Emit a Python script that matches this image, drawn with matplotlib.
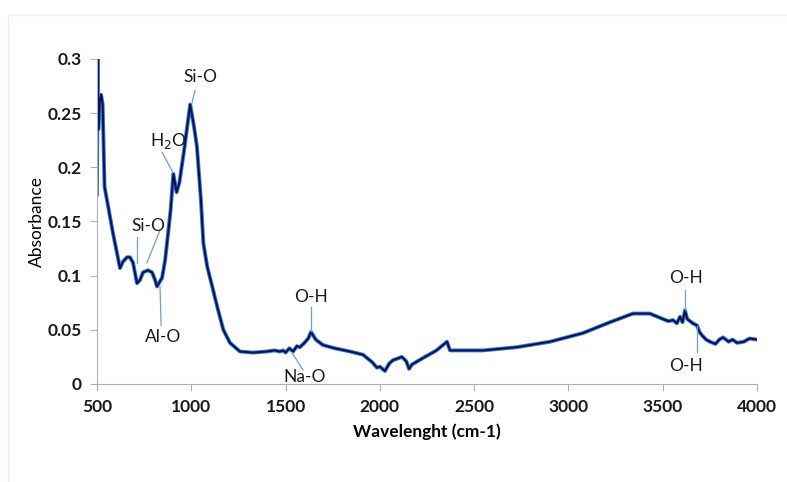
import matplotlib
matplotlib.use('Agg')
from matplotlib import pyplot as plt
from matplotlib.lines import Line2D

plt.rcParams['font.family'] = ['Lato', 'DejaVu Sans']

# FTIR spectrum, wavenumber vs absorbance
wn = [500, 503, 507, 515, 522, 530, 540, 558, 585, 622, 638, 659, 675, 691,
      712, 728, 744, 770, 792, 808, 818, 845, 861, 877, 890, 905, 922, 937,
      962, 994, 1015, 1030, 1051, 1064, 1085, 1111, 1138, 1170, 1205, 1258,
      1327, 1400, 1440, 1470, 1487, 1500, 1520, 1540, 1560, 1576, 1600, 1620,
      1635, 1660, 1698, 1760, 1842, 1911, 1960, 1985, 2000, 2027, 2050, 2070,
      2117, 2140, 2155, 2170, 2229, 2300, 2335, 2356, 2372, 2450, 2547, 2727,
      2902, 3077, 3220, 3342, 3432, 3501, 3530, 3554, 3575, 3592, 3605, 3618,
      3630, 3645, 3660, 3682, 3695, 3708, 3730, 3751, 3780, 3800, 3820, 3850,
      3870, 3894, 3930, 3960, 4000]
absorb = [0.175, 0.300, 0.235, 0.262, 0.267, 0.258, 0.182, 0.165, 0.139,
          0.107, 0.113, 0.117, 0.117, 0.112, 0.093, 0.096, 0.103, 0.105,
          0.103, 0.096, 0.090, 0.098, 0.114, 0.139, 0.160, 0.194, 0.177,
          0.186, 0.216, 0.258, 0.237, 0.219, 0.170, 0.130, 0.108, 0.090,
          0.071, 0.050, 0.038, 0.030, 0.029, 0.030, 0.031, 0.030, 0.031,
          0.029, 0.033, 0.030, 0.035, 0.034, 0.038, 0.042, 0.048, 0.041,
          0.036, 0.033, 0.030, 0.027, 0.020, 0.015, 0.016, 0.012, 0.019,
          0.022, 0.025, 0.021, 0.014, 0.018, 0.024, 0.031, 0.036, 0.039,
          0.031, 0.031, 0.031, 0.034, 0.039, 0.047, 0.057, 0.065, 0.065,
          0.060, 0.058, 0.059, 0.056, 0.062, 0.057, 0.068, 0.060, 0.058,
          0.056, 0.054, 0.048, 0.045, 0.041, 0.039, 0.037, 0.041, 0.043,
          0.039, 0.041, 0.038, 0.039, 0.042, 0.041]

xticks = [500, 1000, 1500, 2000, 2500, 3000, 3500, 4000]
yticks = [0, 0.05, 0.1, 0.15, 0.2, 0.25, 0.3]
ytick_labels = ['0', '0.05', '0.1', '0.15', '0.2', '0.25', '0.3']

# band labels: text, text position, line start, line end
bands = [
    ('Si-O', (1046, 0.283), (1020, 0.271), (1003, 0.259)),
    ('H$_2$O', (877, 0.224), (845, 0.214), (903, 0.195)),
    ('Si-O', (770, 0.146), (712, 0.136), (712, 0.112)),
    (None, None, (834, 0.142), (765, 0.112)),
    ('Al-O', (850, 0.043), (834, 0.090), (840, 0.054)),
    ('O-H', (1635, 0.080), (1635, 0.071), (1635, 0.049)),
    ('Na-O', (1603, 0.006), (1534, 0.029), (1592, 0.013)),
    ('O-H', (3623, 0.098), (3618, 0.087), (3618, 0.068)),
    ('O-H', (3623, 0.017), (3682, 0.054), (3682, 0.030)),
]

fig = plt.figure(figsize=(7.87, 4.82), dpi=100)
ax = fig.add_axes([97/787, 1-384/482, 660/787, 325/482])

ax.plot(wn, absorb, color='#2a78e8', lw=2.8, solid_joinstyle='round')
ax.plot(wn, absorb, color='#0a0f45', lw=1.4, solid_joinstyle='round')

for txt, tpos, p0, p1 in bands:
    ax.plot([p0[0], p1[0]], [p0[1], p1[1]], color='#6d9fd0', lw=0.9)
    if txt:
        ax.text(tpos[0], tpos[1], txt, ha='center', va='center',
                fontsize=12.5, color='#1a1a1a')

ax.set_xlim(500, 4000)
ax.set_ylim(0, 0.3)
ax.set_xticks(xticks)
ax.set_yticks(yticks)
ax.set_yticklabels(ytick_labels)
for lab in ax.get_xticklabels() + ax.get_yticklabels():
    lab.set_fontweight('bold')
    lab.set_fontsize(12.5)
    lab.set_color('#1a1a1a')
ax.tick_params(axis='both', direction='out', length=5, color='#b0b0b0', pad=6)
ax.spines['top'].set_visible(False)
ax.spines['right'].set_visible(False)
ax.spines['left'].set_color('#b0b0b0')
ax.spines['bottom'].set_color('#b0b0b0')
ax.set_xlabel('Wavelenght (cm-1)', fontsize=12.5, fontweight='bold', labelpad=6)
ax.set_ylabel('Absorbance', fontsize=12.5, labelpad=2)

# faint frame of the chart area
fig.add_artist(Line2D([8/787, 1], [1-15/482, 1-15/482], color='#efefef', lw=1))
fig.add_artist(Line2D([8/787, 8/787], [0, 1-15/482], color='#efefef', lw=1))

fig.savefig('out.png', dpi=100)
